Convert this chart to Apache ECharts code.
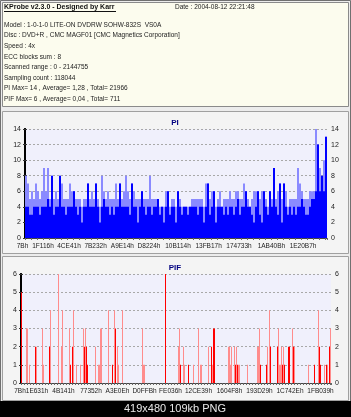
<!DOCTYPE html>
<html>
<head>
<meta charset="utf-8">
<script src="https://cdn.jsdelivr.net/npm/echarts@6/dist/echarts.min.js"></script>
<style>
  html, body { margin: 0; padding: 0; background: #ececec; }
  #chart { width: 351px; height: 417px; }
</style>
</head>
<body>
<div id="chart"></div>
<script>
// header text of the KProbe report
const headTitle = 'KProbe v2.3.0 - Designed by Karr'
const headDate = 'Date : 2004-08-12 22:21:48'
const infoLines = [
  'Model : 1-0-1-0 LITE-ON DVDRW SOHW-832S  VS0A',
  'Disc : DVD+R , CMC MAGF01 [CMC Magnetics Corporation]',
  'Speed : 4x',
  'ECC blocks sum : 8',
  'Scanned range : 0 - 2144755',
  'Sampling count : 118044',
  'PI Max= 14 , Average= 1,28 , Total= 21966',
  'PIF Max= 6 , Average= 0,04 , Total= 711'
]

// PI: one value per sample bucket, peak (light) and base (dark)
const piPeak = [
  8, 7, 5, 6, 5, 7, 6, 5, 6, 9,
  6, 9, 5, 8, 5, 6, 5, 8, 7, 5,
  5, 5, 7, 6, 6, 5, 5, 5, 4, 5,
  5, 7, 5, 6, 5, 7, 5, 4, 8, 6,
  5, 6, 5, 5, 5, 7, 5, 7, 5, 6,
  8, 6, 5, 7, 6, 5, 5, 5, 6, 5,
  5, 5, 8, 5, 5, 5, 5, 4, 4, 4,
  6, 6, 4, 5, 5, 4, 6, 5, 4, 4,
  4, 4, 4, 5, 5, 5, 5, 5, 5, 4,
  7, 7, 5, 6, 6, 4, 5, 6, 4, 5,
  5, 5, 6, 5, 5, 6, 6, 5, 5, 7,
  6, 5, 4, 5, 6, 6, 6, 5, 6, 6,
  5, 4, 6, 5, 9, 5, 6, 7, 5, 7,
  6, 4, 5, 5, 5, 5, 9, 7, 6, 5,
  5, 5, 6, 6, 6, 14, 12, 9, 8, 10, 13
]
const piBase = [
  4, 4, 3, 3, 4, 4, 4, 3, 4, 4,
  4, 5, 4, 8, 3, 4, 4, 8, 4, 4,
  3, 4, 4, 4, 6, 4, 3, 4, 2, 4,
  4, 7, 4, 4, 4, 7, 4, 2, 4, 5,
  4, 4, 3, 4, 3, 4, 4, 7, 4, 4,
  4, 4, 3, 7, 4, 4, 2, 4, 6, 4,
  3, 4, 4, 3, 4, 4, 5, 3, 4, 2,
  4, 6, 3, 4, 4, 2, 6, 4, 3, 4,
  4, 3, 4, 4, 4, 4, 3, 4, 4, 2,
  4, 7, 3, 4, 6, 2, 4, 4, 4, 3,
  4, 3, 4, 4, 3, 4, 5, 3, 4, 4,
  6, 4, 4, 3, 2, 4, 6, 3, 2, 6,
  4, 3, 6, 4, 9, 4, 3, 7, 2, 7,
  4, 3, 4, 3, 4, 3, 4, 4, 5, 4,
  3, 3, 4, 5, 5, 6, 12, 6, 8, 6, 13
]
const piTickLabels = ['7Bh', '1F116h', '4CE41h', '7B232h', 'A9E14h', 'D8224h',
  '10B114h', '13FB17h', '174733h', '1AB40Bh', '1E20B7h']
const piTickPos = [0, 9, 22, 35.3, 48.7, 62, 76.5, 91.8, 107, 123.2, 139]

// PIF: sparse spikes [bucket, value]
const pifCount = 310
const pifDark = [[0, 5], [14, 2], [28, 2], [49, 1], [51, 2], [63, 2], [65, 2], [66, 1],
  [91, 1], [94, 3], [144, 6], [159, 1], [167, 1], [190, 2], [192, 3], [193, 3],
  [214, 1], [216, 1], [239, 1], [245, 1], [249, 2], [256, 2], [261, 1], [263, 1],
  [267, 2], [268, 2], [272, 2], [293, 1], [298, 2], [299, 1], [305, 1], [308, 2]]
const pifLight = [[5, 3], [6, 3], [8, 1], [15, 2], [21, 3], [22, 1], [29, 4], [37, 6],
  [40, 2], [41, 4], [48, 3], [52, 4], [55, 1], [59, 1], [62, 3], [64, 3], [74, 2],
  [77, 1], [78, 1], [79, 3], [80, 3], [87, 4], [93, 4], [96, 2], [97, 1], [101, 4],
  [121, 3], [122, 1], [123, 1], [157, 2], [158, 3], [162, 2], [163, 1], [172, 1],
  [177, 3], [179, 1], [180, 1], [187, 2], [191, 1], [207, 2], [208, 2], [209, 1],
  [210, 2], [213, 2], [215, 2], [217, 1], [218, 1], [226, 1], [236, 2], [237, 2],
  [238, 3], [246, 2], [248, 4], [257, 3], [258, 1], [259, 1], [260, 2], [262, 2],
  [271, 3], [273, 2], [287, 1], [297, 4], [303, 1], [306, 1], [309, 3]]
const pifTickLabels = ['7Bh', '1E631h', '4B141h', '77352h', 'A3E0Eh', 'D0FFBh',
  'FE036h', '12CE39h', '1604F8h', '193D29h', '1C742Eh', '1FB039h']
const pifTickPos = [0, 16, 42.5, 70, 96.5, 123.5, 149.5, 177.5, 208.5, 238.5, 269, 299.5]

const font = 'Liberation Sans'

function spread(pairs, n) {
  const arr = new Array(n).fill(null)
  pairs.forEach(p => { arr[p[0]] = p[1] })
  return arr
}

const piCats = piPeak.map((v, i) => i)
const pifCats = spread([], pifCount).map((v, i) => i)

function yAxes(gridIndex, max, interval) {
  const common = {
    type: 'value', gridIndex: gridIndex, min: 0, max: max, interval: interval,
    axisLine: { show: true, lineStyle: { color: '#000', width: 2 } },
    axisTick: { show: true, length: 2, lineStyle: { color: '#333' } },
    axisLabel: { fontFamily: font, fontSize: 7, color: '#222', margin: 4 }
  }
  return [
    Object.assign({}, common, {
      position: 'left',
      splitLine: { show: true, lineStyle: { color: '#a8a8a8', type: [2, 2], width: 1 } }
    }),
    Object.assign({}, common, { position: 'right', splitLine: { show: false } })
  ]
}

// a label-only value axis laid over the category axis
function labelAxis(gridIndex, max, pos, labels, shift) {
  return {
    type: 'value', gridIndex: gridIndex, min: 0, max: max, position: 'bottom',
    axisLine: { show: false }, axisTick: { show: false }, splitLine: { show: false },
    axisLabel: {
      show: true, customValues: pos, fontFamily: font, fontSize: 6.5, color: '#222', margin: 5,
      showMinLabel: true, showMaxLabel: true, hideOverlap: false,
      formatter: function (v) {
        const k = pos.indexOf(v)
        if (k < 0) return ''
        return shift ? '{s|' + labels[k] + '}' : labels[k]
      },
      rich: { s: { fontFamily: font, fontSize: 6.5, color: '#222', padding: [0, shift || 0, 0, 0] } }
    }
  }
}

function xAxes(gridIndex, cats, max, pos, labels, firstShift) {
  return [
    {
      type: 'category', gridIndex: gridIndex, data: cats, position: 'bottom',
      axisLine: { lineStyle: { color: '#444', width: 1 } },
      axisTick: { show: true, interval: 2, length: 2, lineStyle: { color: '#666' } },
      axisLabel: { show: false }
    },
    labelAxis(gridIndex, max, pos.slice(0, 1), labels.slice(0, 1), firstShift),
    labelAxis(gridIndex, max, pos.slice(1), labels.slice(1), 0)
  ]
}

const graphic = [
  { type: 'rect', shape: { x: 0.5, y: 0.5, width: 350, height: 416 }, style: { fill: '#ececec', stroke: '#707070' }, z: -10 },
  { type: 'rect', shape: { x: 2.5, y: 2.5, width: 346, height: 104 }, style: { fill: '#fcfcee', stroke: '#8a8a8a' }, z: -9 },
  { type: 'rect', shape: { x: 2.5, y: 111.5, width: 346, height: 142 }, style: { fill: '#f4f4f4', stroke: '#a0a0a0' }, z: -9 },
  { type: 'rect', shape: { x: 2.5, y: 256.5, width: 346, height: 144 }, style: { fill: '#f4f4f4', stroke: '#a0a0a0' }, z: -9 },
  { type: 'rect', shape: { x: 0, y: 401, width: 351, height: 16 }, style: { fill: '#000' }, z: -8 },
  { type: 'text', x: 4, y: 7.5, style: { text: headTitle, font: 'bold 7px ' + font, fill: '#111', verticalAlign: 'middle' } },
  { type: 'line', shape: { x1: 4, y1: 11.5, x2: 116, y2: 11.5 }, style: { stroke: '#111', lineWidth: 1 } },
  { type: 'text', x: 175, y: 7.5, style: { text: headDate, font: '6.5px ' + font, fill: '#222', verticalAlign: 'middle' } },
  { type: 'text', x: 175, y: 123, style: { text: 'PI', font: 'bold 8px ' + font, fill: '#000080', align: 'center', verticalAlign: 'middle' } },
  { type: 'text', x: 175, y: 267.5, style: { text: 'PIF', font: 'bold 8px ' + font, fill: '#000080', align: 'center', verticalAlign: 'middle' } },
  { type: 'text', x: 175, y: 409, style: { text: '419x480 109kb PNG', font: '11px ' + font, fill: '#e8e8e8', align: 'center', verticalAlign: 'middle' } }
]
infoLines.forEach(function (t, k) {
  graphic.push({ type: 'text', x: 4, y: 25 + k * 10.6, style: { text: t, font: '6.5px ' + font, fill: '#222', verticalAlign: 'middle' } })
})

const chart = echarts.init(document.getElementById('chart'), null, { renderer: 'canvas' })
chart.setOption({
  animation: false,
  backgroundColor: 'transparent',
  graphic: graphic,
  grid: [
    { left: 25, top: 129, width: 302, height: 109, show: true, backgroundColor: '#f0f0fc', borderWidth: 0 },
    { left: 21, top: 274, width: 310, height: 109, show: true, backgroundColor: '#f0f0fc', borderWidth: 0 }
  ],
  xAxis: xAxes(0, piCats, piPeak.length, piTickPos, piTickLabels, 5)
    .concat(xAxes(1, pifCats, pifCount, pifTickPos, pifTickLabels, 2)),
  yAxis: yAxes(0, 14, 2).concat(yAxes(1, 6, 1)),
  series: [
    { name: 'PI peak', type: 'bar', xAxisIndex: 0, yAxisIndex: 0, data: piPeak,
      barCategoryGap: 0, barGap: '-100%', itemStyle: { color: '#8a8aff' } },
    { name: 'PI', type: 'bar', xAxisIndex: 0, yAxisIndex: 0, data: piBase,
      barCategoryGap: 0, barGap: '-100%', itemStyle: { color: '#0000ff' } },
    { name: 'PIF light', type: 'bar', xAxisIndex: 3, yAxisIndex: 2, data: spread(pifLight, pifCount),
      barCategoryGap: 0, barGap: '-100%', itemStyle: { color: '#ff8c8c' } },
    { name: 'PIF', type: 'bar', xAxisIndex: 3, yAxisIndex: 2, data: spread(pifDark, pifCount),
      barCategoryGap: 0, barGap: '-100%', itemStyle: { color: '#ff0000' } }
  ]
})
window.addEventListener('resize', () => {
  chart.resize()
})
</script>
</body>
</html>
